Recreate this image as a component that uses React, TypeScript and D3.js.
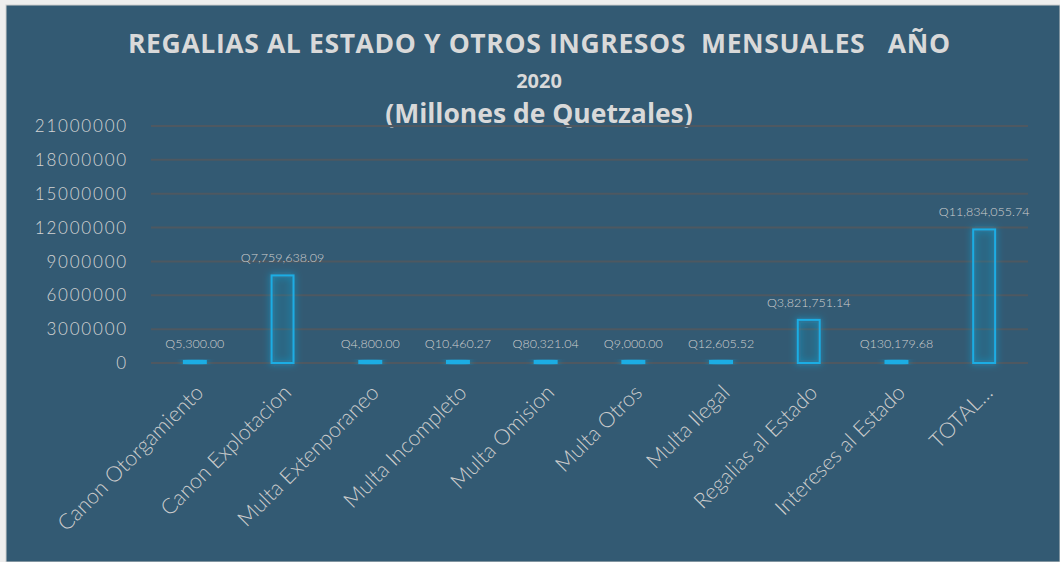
import React from "react";
import * as d3 from "d3";

const categories = [
  "Canon Otorgamiento",
  "Canon Explotacion",
  "Multa Extenporaneo",
  "Multa Incompleto",
  "Multa Omision",
  "Multa Otros",
  "Multa Ilegal",
  "Regalias al Estado",
  "Intereses al Estado",
  "TOTAL...",
];
const values = [5300.0, 7759638.09, 4800.0, 10460.27, 80321.04, 9000.0, 12605.52, 3821751.14, 130179.68, 11834055.74];
const yTicks = [0, 3000000, 6000000, 9000000, 12000000, 15000000, 18000000, 21000000];
const titleLines = ["REGALIAS AL ESTADO Y OTROS INGRESOS  MENSUALES   AÑO", "2020", "(Millones de Quetzales)"];

const W = 1060;
const H = 562;
const plotLeft = 151;
const plotRight = 1028;
const plotTop = 126;
const plotBottom = 363;

export default function App() {
  const x = d3.scaleBand<string>().domain(categories).range([plotLeft, plotRight]).paddingInner(0.75).paddingOuter(0.375);
  const y = d3.scaleLinear().domain([0, 21000000]).range([plotBottom, plotTop]);
  const fmt = (v: number) => "Q" + d3.format(",.2f")(v);
  const font = "Lato, 'Open Sans', sans-serif";
  const bw = x.bandwidth();
  return (
    <svg width={W} height={H} style={{ position: "absolute", left: 0, top: 0, display: "block" }}>
      <defs>
        <filter id="glow" x="-60%" y="-60%" width="220%" height="220%">
          <feGaussianBlur in="SourceGraphic" stdDeviation="3.5" result="b" />
          <feMerge>
            <feMergeNode in="b" />
            <feMergeNode in="SourceGraphic" />
          </feMerge>
        </filter>
      </defs>
      <rect x={0} y={0} width={W} height={H} fill="#eeeeee" />
      <rect x={6} y={5} width={W - 6} height={H - 5} fill="#335a73" stroke="#cfcfcf" strokeWidth={1} />
      {titleLines.map((t, i) => (
        <text
          key={i}
          x={539}
          y={[53, 88, 123][i]}
          textAnchor="middle"
          fill="#d9d9d9"
          fontWeight="bold"
          fontFamily="'Open Sans', sans-serif"
          fontSize={i === 1 ? 20 : 26.5}
          textLength={i === 0 ? 822 : undefined}
          lengthAdjust="spacing"
          style={{ whiteSpace: "pre" }}
        >
          {t}
        </text>
      ))}
      {yTicks.map((t) => (
        <g key={t}>
          <line x1={plotLeft} x2={plotRight} y1={y(t)} y2={y(t)} stroke="#4e5861" strokeWidth={2} />
          <text
            x={128}
            y={y(t)}
            dy="0.36em"
            textAnchor="end"
            fill="#d4d4d4"
            fontFamily={font}
            fontWeight={300}
            fontSize={17}
            letterSpacing={1.8}
          >
            {t}
          </text>
        </g>
      ))}
      {categories.map((c, i) => {
        const v = values[i];
        const x0 = x(c)!;
        const top = y(v);
        const h = Math.max(plotBottom - top, 2);
        return (
          <g key={c}>
            <rect
              x={x0}
              y={plotBottom - h}
              width={bw}
              height={h}
              fill="rgba(28,173,228,0.08)"
              stroke="#1cade4"
              strokeWidth={2}
              filter="url(#glow)"
            />
            <text
              x={x0 + bw / 2}
              y={plotBottom - h - 13}
              textAnchor="middle"
              fill="#cfcfcf"
              fontFamily={font}
              fontWeight={300}
              fontSize={12.5}
            >
              {fmt(v)}
            </text>
            <text
              transform={`translate(${x0 + bw / 2 + 10},${394}) rotate(-45)`}
              textAnchor="end"
              fill="#cccccc"
              fontFamily={font}
              fontWeight={300}
              fontSize={21.5}
            >
              {c}
            </text>
          </g>
        );
      })}
    </svg>
  );
}
